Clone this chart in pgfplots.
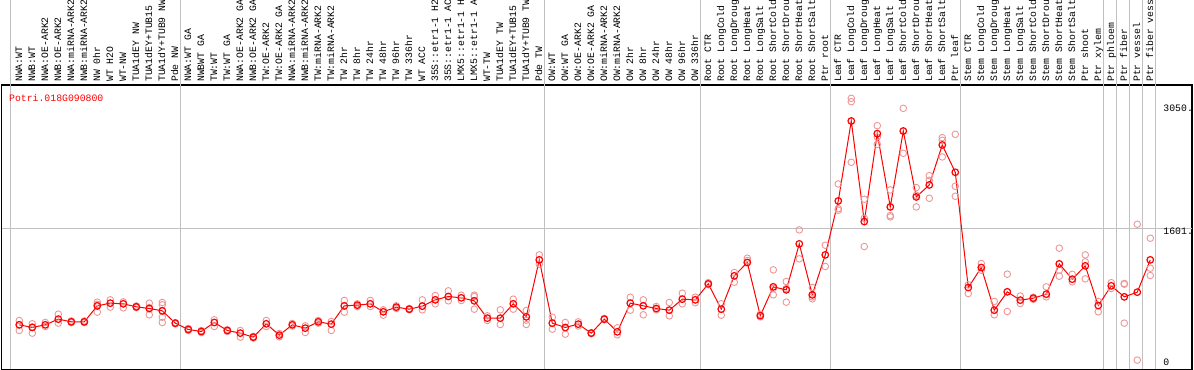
\documentclass[border=0pt]{standalone}
\usepackage{fontspec}
\setmainfont{Liberation Sans}
\newfontfamily\mono{Liberation Mono}
\usepackage{pgfplots}
\usepackage{pgfplotstable}
\pgfplotsset{compat=1.18}
\definecolor{rd}{RGB}{255,0,0}
\definecolor{pk}{RGB}{238,150,150}
\definecolor{gl}{RGB}{192,192,192}

\pgfplotstableread{
x y
0 444
1 412
2 444
3 512
4 480
5 480
6 672
7 704
8 696
9 660
10 640
11 612
12 464
13 388
14 364
15 472
16 376
17 344
18 296
19 456
20 320
21 444
22 404
23 480
24 452
25 672
26 680
27 696
28 600
29 656
30 632
31 668
32 744
33 784
34 768
35 732
36 524
37 524
38 696
39 540
40 1224
41 464
42 412
43 452
44 344
45 512
46 360
47 704
48 672
49 640
50 620
51 752
52 744
53 936
54 632
55 1032
56 1192
57 554
58 900
59 864
60 1416
61 804
62 1284
63 1932
64 2892
65 1684
66 2740
67 1860
68 2772
69 1980
70 2124
71 2604
72 2276
73 892
74 1132
75 620
76 840
77 740
78 764
79 812
80 1176
81 992
82 1152
83 676
84 912
85 780
86 836
87 1224
}\means

\pgfplotstableread{
x y
0 496
0 376
0 444
1 456
1 344
1 420
2 472
2 424
3 572
3 464
4 490
4 470
5 490
5 470
6 716
6 596
6 690
7 744
7 656
8 720
8 648
9 670
9 650
10 704
10 564
10 650
11 712
11 684
11 536
11 472
12 470
12 455
13 400
13 376
14 375
14 350
15 504
15 424
16 385
16 365
17 376
17 296
18 305
18 285
19 496
19 424
20 340
20 300
21 460
21 430
22 432
22 352
23 496
23 464
24 484
24 376
25 736
25 596
26 696
26 664
27 736
27 664
28 624
28 560
29 672
29 640
30 640
30 625
31 744
31 624
32 796
32 696
33 852
33 732
34 800
34 736
35 800
35 784
35 632
36 552
36 496
37 624
37 448
38 752
38 632
39 616
39 448
39 500
40 1284
40 1172
41 536
41 392
42 472
42 332
43 480
43 430
44 350
44 338
45 520
45 505
46 408
46 324
47 776
47 620
48 744
48 564
49 664
49 624
50 712
50 552
51 824
51 696
52 776
52 710
53 950
53 925
54 696
54 560
55 1072
55 956
56 1244
56 1216
57 540
57 570
58 1104
58 804
58 880
59 964
59 716
59 880
60 1584
60 1236
61 892
61 756
61 780
62 1400
62 1144
63 2136
63 1820
63 1840
64 3164
64 3124
64 2396
65 1952
65 1724
65 1384
66 2836
66 2612
66 2700
67 2064
67 1756
67 1740
68 3044
68 2504
69 2092
69 1860
69 2000
70 2236
70 1964
70 2180
71 2692
71 2460
71 2660
72 2732
72 2108
72 1988
73 924
73 820
74 1180
74 1100
75 724
75 564
76 1052
76 604
77 790
77 700
78 775
78 750
79 900
79 780
80 1364
80 1028
80 1100
81 1050
81 960
82 1284
82 996
82 1200
83 724
83 600
84 950
84 880
85 932
85 940
85 464
86 1652
86 20
87 1484
87 1124
87 1036
}\reps

\newcommand{\lf}{\mono\fontsize{9.8}{10}\selectfont}

\begin{document}
\begin{tikzpicture}
\begin{axis}[
  scale only axis, width=1190pt, height=284pt,
  xmin=-1.354, xmax=90.21, ymin=-88, ymax=3324,
  clip=false,
  axis line style={black, line width=1.2pt},
  xtick={0,...,87},
  xticklabels={NWA:WT, NWB:WT, NWA:OE-ARK2, NWB:OE-ARK2, NWA:miRNA-ARK2, NWB:miRNA-ARK2, NW 0hr, WT H2O, WT-NW, TUA1dEY NW, TUA1dEY+TUB15, TUA1dY+TUB9 NW, Pde NW,
  NWA:WT GA, NWBWT GA, TW:WT, TW:WT GA, NWA:OE-ARK2 GA, NWB:OE-ARK2 GA, TW:OE-ARK2, TW:OE-ARK2 GA, NWA:miRNA-ARK2, NWB:miRNA-ARK2, TW:miRNA-ARK2, TW:miRNA-ARK2, TW 2hr, TW 8hr, TW 24hr, TW 48hr, TW 96hr, TW 336hr, WT ACC, 35S::etr1-1 H2, 35S::etr1-1 AC, LMX5::etr1-1 H, LMX5::etr1-1 A, WT-TW, TUA1dEY TW, TUA1dEY+TUB15, TUA1dY+TUB9 TW, Pde TW,
  OW:WT, OW:WT GA, OW:OE-ARK2, OW:OE-ARK2 GA, OW:miRNA-ARK2, OW:miRNA-ARK2, OW 2hr, OW 8hr, OW 24hr, OW 48hr, OW 96hr, OW 336hr,
  Root CTR, Root LongCold, Root LongDroug, Root LongHeat, Root LongSalt, Root ShortCold, Root ShortDrou, Root ShortHeat, Root ShortSalt, Ptr root,
  Leaf CTR, Leaf LongCold, Leaf LongDroug, Leaf LongHeat, Leaf LongSalt, Leaf ShortCold, Leaf ShortDrou, Leaf ShortHeat, Leaf ShortSalt, Ptr leaf,
  Stem CTR, Stem LongCold, Stem LongDroug, Stem LongHeat, Stem LongSalt, Stem ShortCold, Stem ShortDrou, Stem ShortHeat, Stem ShortSalt, Ptr shoot, Ptr xylem, Ptr phloem, Ptr fiber, Ptr vessel, Ptr fiber vess},
  xticklabel pos=upper,
  xticklabel style={xshift=2.8pt, yshift=3pt, rotate=90, anchor=base west, font=\lf, inner sep=0pt},
  major tick length=0pt,
  ytick=\empty,
]
\pgfplotsinvokeforeach{-0.7,12.4,40.4,52.4,62.4,72.4,83.4,84.4,85.4,86.4,87.4}{
  \draw[gl, line width=0.9pt] (axis cs:#1,-88) -- ([yshift=90pt]axis cs:#1,3324);
}
\draw[gl, line width=0.9pt] (axis cs:-1.354,1601) -- (axis cs:90.21,1601);
\addplot[only marks, mark=o, mark size=3.3pt, pk, mark options={line width=0.9pt}] table {\reps};
\addplot[rd, line width=1pt, mark=o, mark size=3.3pt, mark options={line width=1.2pt}] table {\means};
\node[anchor=base west, text=rd, font=\lf, inner sep=0pt] at ([xshift=7.3pt,yshift=-16pt]rel axis cs:0,1) {Potri.018G090800};
\node[anchor=west, font=\lf, inner sep=0pt] at (axis cs:88,3050) {3050.};
\node[anchor=west, font=\lf, inner sep=0pt] at (axis cs:88,1564) {1601.};
\node[anchor=west, font=\lf, inner sep=0pt] at (axis cs:88,0) {0};
\end{axis}
\pgfresetboundingbox
\useasboundingbox ([xshift=-1.7pt,yshift=-0.7pt]current axis.south west) rectangle ([xshift=2pt,yshift=85pt]current axis.north east);
\end{tikzpicture}
\end{document}
